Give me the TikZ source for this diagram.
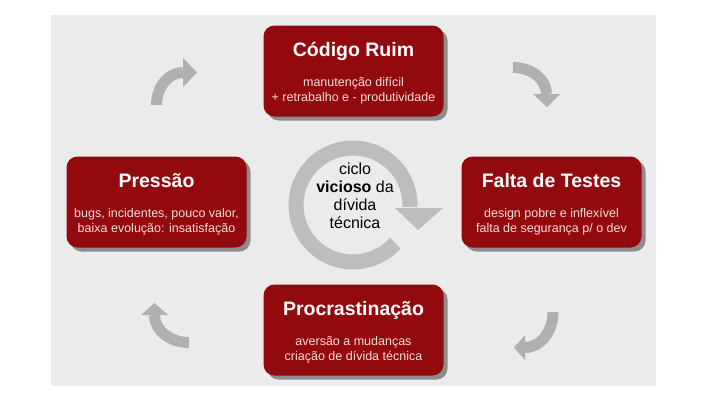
\documentclass[tikz,border=0pt]{standalone}
\usepackage{fontspec}
\setmainfont{Liberation Sans}
\usetikzlibrary{shadows}

\definecolor{boxred}{RGB}{146,10,14}
\definecolor{bggray}{RGB}{235,235,235}
\definecolor{shadegray}{RGB}{140,140,140}
\definecolor{arrowgray}{RGB}{176,176,176}
\definecolor{ringgray}{RGB}{189,189,189}
\definecolor{subpink}{RGB}{245,222,222}

\begin{document}
\begin{tikzpicture}[x=1pt, y=-1pt, line cap=butt,
  stage/.style={rounded corners=11pt, fill=boxred,
    minimum width=180pt, minimum height=91pt, inner sep=0pt,
    drop shadow={shadow xshift=4pt, shadow yshift=-4pt,
      fill=shadegray, opacity=1}},
  stagetitle/.style={text=white, anchor=base,
    font=\fontsize{19.5}{22}\selectfont\bfseries},
  stagesub/.style={text=subpink, anchor=base, align=center,
    font=\fontsize{12.5}{15}\selectfont},
  cyc/.style={draw=arrowgray, line width=11pt},
  cyctip/.style={fill=arrowgray},
  ring/.style={draw=ringgray, line width=15pt}]

  % page 712 x 400, units are pixels (y down)
  \useasboundingbox (0,0) rectangle (712,400);
  \fill[bggray] (51,15) rectangle (656,386);

  % the four stages
  \node[stage] (codigo)  at (353.5, 71)  {};
  \node[stage] (testes)  at (551.5, 202) {};
  \node[stage] (procr)   at (353.5, 330) {};
  \node[stage] (pressao) at (156.5, 202) {};

  % base of a two-line node = baseline of its last line
  \node[stagetitle] (codigo-t) at ([yshift=15pt]codigo.center) {Código Ruim};
  \node[stagesub]   (codigo-s) at ([yshift=-30pt]codigo.center)
      {manutenção difícil\\+ retrabalho e - produtividade};

  \node[stagetitle] (testes-t) at ([yshift=15pt]testes.center) {Falta de Testes};
  \node[stagesub]   (testes-s) at ([yshift=-30pt]testes.center)
      {design pobre e inflexível\\falta de segurança p/ o dev};

  \node[stagetitle] (procr-t) at ([yshift=15pt]procr.center) {Procrastinação};
  \node[stagesub]   (procr-s) at ([yshift=-30pt]procr.center)
      {aversão a mudanças\\criação de dívida técnica};

  \node[stagetitle] (pressao-t) at ([yshift=15pt]pressao.center) {Pressão};
  \node[stagesub]   (pressao-s) at ([yshift=-30pt]pressao.center)
      {bugs, incidentes, pouco valor,\\baixa evolução: insatisfação};

  % curved arrows between the stages
  \draw[cyc] (156.5,105) arc[start angle=180, end angle=270, x radius=26.5, y radius=32.5];
  \fill[cyctip] (183,58) -- (197,72.5) -- (183,87) -- cycle;

  \draw[cyc] (513,67.5) arc[start angle=270, end angle=360, x radius=33.5, y radius=26.5];
  \fill[cyctip] (533,94) -- (547,107) -- (560,94) -- cycle;

  \draw[cyc] (553,312) arc[start angle=0, end angle=90, x radius=28, y radius=35.5];
  \fill[cyctip] (525,335) -- (514,347.5) -- (525,360) -- cycle;

  \draw[cyc] (189,342.5) arc[start angle=90, end angle=180, x radius=34.5, y radius=27.5];
  \fill[cyctip] (141,315) -- (154.5,303) -- (168,315) -- cycle;

  % central ring
  \draw[ring] (353,205) ++(42:57) arc[start angle=42, end angle=362, radius=57];
  \fill[ringgray] (395,208) -- (418,230) -- (443,208) -- cycle;

  \node[anchor=base, align=center, font=\fontsize{16}{17.7}\selectfont]
      (ciclo) at (355,228) {ciclo\\\textbf{vicioso} da\\dívida\\técnica};

\end{tikzpicture}
\end{document}
